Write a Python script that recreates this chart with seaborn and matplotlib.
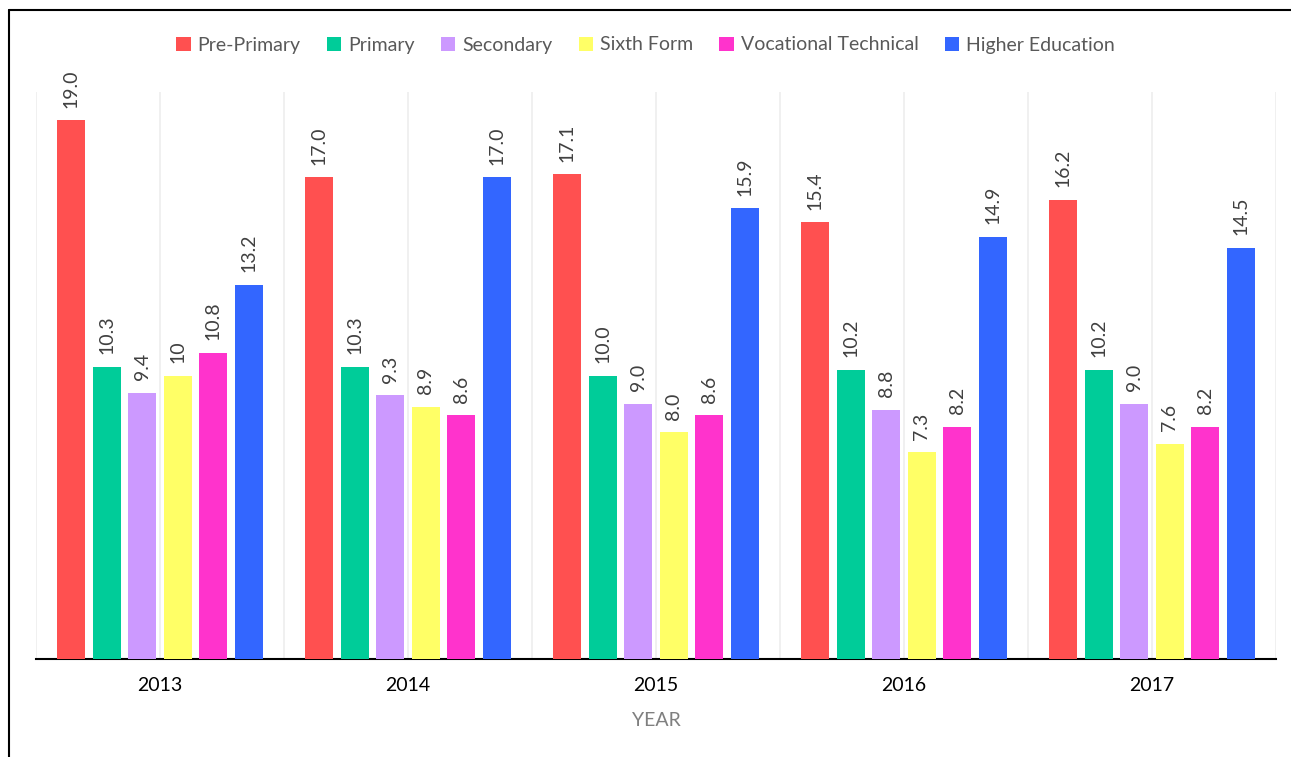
import seaborn as sns
import matplotlib.pyplot as plt
import pandas as pd
from matplotlib.lines import Line2D

# values
years = ['2013', '2014', '2015', '2016', '2017']
levels = ['Pre-Primary', 'Primary', 'Secondary', 'Sixth Form',
          'Vocational Technical', 'Higher Education']
pre_primary = [19.0, 17.0, 17.1, 15.4, 16.2]
primary = [10.3, 10.3, 10.0, 10.2, 10.2]
secondary = [9.4, 9.3, 9.0, 8.8, 9.0]
sixth_form = [10, 8.9, 8.0, 7.3, 7.6]
vocational = [10.8, 8.6, 8.6, 8.2, 8.2]
higher = [13.2, 17.0, 15.9, 14.9, 14.5]
colors = ['#FF5050', '#00CC99', '#CC99FF', '#FFFF66', '#FF33CC', '#3366FF']

series = [pre_primary, primary, secondary, sixth_form, vocational, higher]

# long table for seaborn
rows = []
for lvl, vals in zip(levels, series):
    for y, v in zip(years, vals):
        rows.append({'year': y, 'level': lvl, 'value': float(v)})
df = pd.DataFrame(rows)

sns.set_style('white')
plt.rcParams['font.family'] = ['Lato', 'DejaVu Sans']

fig = plt.figure(figsize=(12.91, 7.57), dpi=100)
ax = fig.add_axes([36 / 1291, 98 / 757, (1276 - 36) / 1291, (659 - 92) / 757])

sns.barplot(data=df, x='year', y='value', hue='level', order=years,
            hue_order=levels, palette=colors, saturation=1, width=0.86,
            gap=0.21, linewidth=0, errorbar=None, ax=ax, zorder=3)

# data labels, rotated like the original
for cont, vals in zip(ax.containers, series):
    labels = [str(v) if isinstance(v, int) else '{:.1f}'.format(v) for v in vals]
    ax.bar_label(cont, labels=labels, rotation=90, padding=9,
                 fontsize=14, color='#404040')

ax.set_ylim(0, 20)
ax.set_xlim(-0.5, 4.5)
ax.set_xticks([i - 0.5 for i in range(6)], minor=True)
ax.grid(axis='x', which='both', color='#EEEEEE', linewidth=1.2, zorder=0)
ax.set_axisbelow(True)
ax.tick_params(axis='x', which='both', length=0, pad=13, labelsize=14,
               labelcolor='#000000')
ax.set_yticks([])
ax.set_ylabel('')
ax.set_xlabel('YEAR', fontsize=14, color='#7F7F7F', labelpad=13)
for s in ['top', 'right', 'left']:
    ax.spines[s].set_visible(False)
ax.spines['bottom'].set_color('black')
ax.spines['bottom'].set_linewidth(1.5)

handles, labs = ax.get_legend_handles_labels()
ax.get_legend().remove()
fig.legend(handles, labs, loc='center', bbox_to_anchor=(0.5, 1 - 45 / 757),
           ncol=6, frameon=False, fontsize=14, handlelength=0.75,
           handleheight=0.75, handletextpad=0.35, columnspacing=1.35,
           labelcolor='#595959')

# outer frame (only top and left are visible in the crop)
fig.add_artist(Line2D([9 / 1291, 1], [1 - 10 / 757, 1 - 10 / 757],
                      color='black', linewidth=1.5, transform=fig.transFigure))
fig.add_artist(Line2D([9 / 1291, 9 / 1291], [0, 1 - 10 / 757],
                      color='black', linewidth=1.5, transform=fig.transFigure))

fig.savefig('out.png', dpi=100)
